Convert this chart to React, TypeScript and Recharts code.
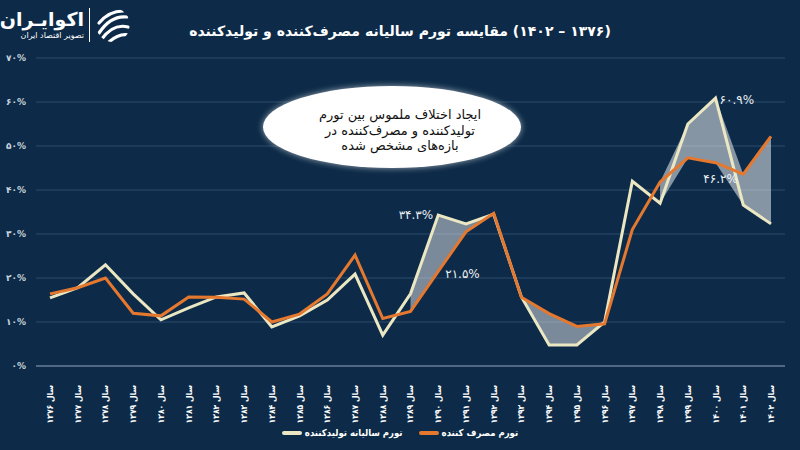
import React from 'react';
import { ComposedChart, Line, Area, XAxis, YAxis, CartesianGrid } from 'recharts';

const years = ['۱۳۷۶','۱۳۷۷','۱۳۷۸','۱۳۷۹','۱۳۸۰','۱۳۸۱','۱۳۸۲','۱۳۸۳','۱۳۸۴','۱۳۸۵','۱۳۸۶','۱۳۸۷','۱۳۸۸','۱۳۸۹','۱۳۹۰','۱۳۹۱','۱۳۹۲','۱۳۹۳','۱۳۹۴','۱۳۹۵','۱۳۹۶','۱۳۹۷','۱۳۹۸','۱۳۹۹','۱۴۰۰','۱۴۰۱','۱۴۰۲'];
const producer = [15.5, 17.8, 23.0, 16.4, 10.5, 13.2, 15.7, 16.6, 8.9, 11.4, 15.0, 20.9, 7.0, 16.4, 34.3, 32.3, 34.5, 15.7, 4.8, 4.8, 10.0, 42.0, 37.0, 55.0, 60.9, 36.6, 32.3];
const consumer = [16.4, 17.8, 20.0, 12.0, 11.4, 15.7, 15.6, 15.2, 10.0, 11.8, 16.4, 25.2, 10.8, 12.4, 21.5, 30.5, 34.7, 15.6, 11.9, 9.0, 9.6, 31.0, 41.8, 47.3, 46.2, 43.6, 52.2];
const yTicks = [0, 10, 20, 30, 40, 50, 60, 70];
const yTickLabels = ['۰%', '۱۰%', '۲۰%', '۳۰%', '۴۰%', '۵۰%', '۶۰%', '۷۰%'];
const bandOver = [13, 20];
const bandUnder = [22, 26];
const producerNotes: Record<number, string> = { 14: '۳۴.۳%', 24: '۶۰.۹%' };
const consumerNotes: Record<number, string> = { 14: '۲۱.۵%', 24: '۴۶.۲%' };

const title = '(۱۳۷۶ – ۱۴۰۲) مقایسه تورم سالیانه مصرف‌کننده و تولیدکننده';
const noteLines = ['ایجاد اختلاف ملموس بین تورم', 'تولیدکننده و مصرف‌کننده در', 'بازه‌های مشخص شده'];
const producerName = 'تورم سالیانه تولیدکننده';
const consumerName = 'تورم مصرف کننده';

const data = years.map((y, i) => {
  const lo = Math.min(producer[i], consumer[i]);
  const hi = Math.max(producer[i], consumer[i]);
  return {
    name: 'سال ' + y,
    producer: producer[i],
    consumer: consumer[i],
    over: i >= bandOver[0] && i <= bandOver[1] ? [lo, hi] : null,
    under: i >= bandUnder[0] && i <= bandUnder[1] ? [lo, hi] : null,
  };
});

const BG = '#0d2b48';
const CREAM = '#ebe7c3';
const ORANGE = '#e5782f';
const FONT = '"DejaVu Sans", sans-serif';
const FONT_C = '"DejaVu Sans Condensed", "DejaVu Sans", sans-serif';

const XTick = (props: any) => {
  const { x, y, payload } = props;
  return (
    <g transform={`translate(${x},${y})`}>
      <text transform="rotate(-90)" x={-11} y={0} dy="0.35em" textAnchor="end" fill="#ffffff" fontSize={8.5} fontWeight="bold" fontFamily={FONT_C}>
        {payload.value}
      </text>
    </g>
  );
};

const YTick = (props: any) => {
  const { x, y, payload } = props;
  const idx = yTicks.indexOf(payload.value);
  return (
    <text x={x - 2} y={y} dy="0.35em" textAnchor="end" fill="#c9d3de" fontSize={9} fontWeight="bold" fontFamily={FONT}>
      {yTickLabels[idx]}
    </text>
  );
};

const makeLabel = (notes: Record<number, string>, kind: string) => (props: any) => {
  const { x, y, index } = props;
  const t = notes[index];
  if (!t) return null;
  let dx = 0, dy = 0, anchor: any = 'start';
  if (kind === 'p' && index === 14) { dx = -5; dy = 0; anchor = 'end'; }
  if (kind === 'p' && index === 24) { dx = 4; dy = 2; anchor = 'start'; }
  if (kind === 'c' && index === 14) { dx = 7; dy = 2; anchor = 'start'; }
  if (kind === 'c' && index === 24) { dx = 5; dy = 16; anchor = 'middle'; }
  return (
    <text x={x + dx} y={y + dy} dy="0.35em" textAnchor={anchor} fill="#eef1f4" fontSize={12} fontFamily={FONT}>
      {t}
    </text>
  );
};

const Logo = () => (
  <div style={{ position: 'absolute', left: 4, top: 4, width: 130, height: 42, display: 'flex', alignItems: 'center' }}>
    <div style={{ direction: 'rtl', textAlign: 'right', color: '#fff', fontFamily: FONT, width: 80 }}>
      <div style={{ fontSize: 19, fontWeight: 'bold', lineHeight: '22px' }}>اکوایـران</div>
      <div style={{ fontSize: 8, lineHeight: '12px' }}>تصویر اقتصاد ایران</div>
    </div>
    <div style={{ width: 1, height: 34, background: '#ffffff', margin: '0 5px' }} />
    <svg width={36} height={36} viewBox="0 0 36 36">
      <defs>
        <clipPath id="lc"><circle cx={18} cy={18} r={17} /></clipPath>
      </defs>
      <g clipPath="url(#lc)" fill="none" stroke="#fff" strokeWidth={3.2} strokeLinecap="round">
        <path d="M4 16 Q14 4 28 4" />
        <path d="M4 26 Q16 8 32 10" />
        <path d="M6 33 Q18 16 33 20" />
        <path d="M14 35 Q24 26 34 28" />
      </g>
    </svg>
  </div>
);

export default function App() {
  return (
    <div style={{ position: 'fixed', left: 0, top: 0, width: 800, height: 450, background: BG, overflow: 'hidden' }}>
      <Logo />
      <div style={{ position: 'absolute', left: 0, top: 23, width: 800, textAlign: 'center', color: '#fff', fontFamily: FONT, fontSize: 14, fontWeight: 'bold' }}>
        <span dir="rtl" style={{ direction: 'rtl', unicodeBidi: 'isolate' }}>{title}</span>
      </div>
      <ComposedChart width={800} height={450} data={data} margin={{ top: 58, right: 15, left: 0, bottom: 0 }}>
        <CartesianGrid horizontal vertical={false} stroke="#2d4b6a" strokeWidth={1} />
        <XAxis dataKey="name" interval={0} height={84} tick={<XTick />} tickLine={false} axisLine={{ stroke: '#8196ad', strokeWidth: 1.2 }} padding={{ left: 14, right: 14 }} />
        <YAxis domain={[0, 70]} ticks={yTicks} width={36} tick={<YTick />} tickLine={false} axisLine={false} />
        <Area dataKey="under" type="linear" stroke="none" fill="#ffffff" fillOpacity={0.5} isAnimationActive={false} connectNulls={false} />
        <Line dataKey="producer" type="linear" stroke={CREAM} strokeWidth={3} dot={false} isAnimationActive={false} label={makeLabel(producerNotes, 'p')} />
        <Line dataKey="consumer" type="linear" stroke={ORANGE} strokeWidth={3} dot={false} isAnimationActive={false} label={makeLabel(consumerNotes, 'c')} />
        <Area dataKey="over" type="linear" stroke="none" fill="#ffffff" fillOpacity={0.45} isAnimationActive={false} connectNulls={false} />
      </ComposedChart>
      <div style={{ position: 'absolute', left: 263, top: 86, width: 258, height: 82, borderRadius: '50%', background: '#ffffff', boxShadow: '0 0 6px rgba(255,255,255,0.6)' }} />
      <div dir="rtl" style={{ position: 'absolute', left: 280, top: 107, width: 240, textAlign: 'center', color: '#111', fontFamily: FONT, fontSize: 13, lineHeight: '15.5px' }}>
        {noteLines.map((l, i) => (<div key={i}>{l}</div>))}
      </div>
      <div style={{ position: 'absolute', left: 0, top: 427, width: 800, display: 'flex', justifyContent: 'center', alignItems: 'center', fontFamily: FONT_C, fontSize: 9.5, fontWeight: 'bold', color: '#fff' }}>
        <div style={{ display: 'flex', alignItems: 'center', marginRight: 16 }}>
          <div style={{ width: 20, height: 4, borderRadius: 2, background: CREAM, marginRight: 3 }} />
          <span dir="rtl">{producerName}</span>
        </div>
        <div style={{ display: 'flex', alignItems: 'center' }}>
          <div style={{ width: 20, height: 4, borderRadius: 2, background: ORANGE, marginRight: 3 }} />
          <span dir="rtl">{consumerName}</span>
        </div>
      </div>
    </div>
  );
}
